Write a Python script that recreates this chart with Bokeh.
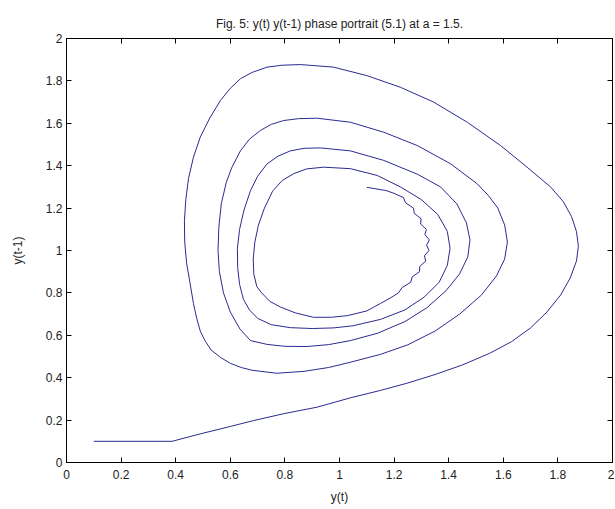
from bokeh.plotting import figure
from bokeh.models import FixedTicker, LinearAxis, Range1d, CustomJSTickFormatter
from bokeh.embed import file_html
from bokeh.resources import INLINE

# trajectory, piece by piece: y(t) (x) and y(t-1) (y)
seg0_x = [0.10, 0.387, 0.49, 0.60, 0.686, 0.795, 0.918, 1.04, 1.15, 1.25, 1.35, 1.45, 1.55, 1.63, 1.70, 1.76, 1.81,
          1.845, 1.868, 1.875]
seg0_y = [0.10, 0.10, 0.135, 0.17, 0.198, 0.23, 0.261, 0.305, 0.34, 0.375, 0.415, 0.46, 0.515, 0.57, 0.635, 0.71, 0.79,
          0.87, 0.95, 1.02]
loop1_x = [1.868, 1.85, 1.82, 1.773, 1.687, 1.59, 1.468, 1.345, 1.223, 1.10, 0.978, 0.857, 0.79, 0.735, 0.68, 0.637,
           0.60, 0.564, 0.525, 0.49, 0.465, 0.447, 0.437, 0.432, 0.433, 0.44, 0.452, 0.465, 0.477, 0.49, 0.507, 0.53,
           0.565, 0.60, 0.64, 0.68, 0.77, 0.87, 0.96, 1.04]
loop1_y = [1.09, 1.16, 1.23, 1.30, 1.393, 1.495, 1.605, 1.70, 1.77, 1.825, 1.865, 1.877, 1.874, 1.865, 1.84, 1.81,
           1.765, 1.708, 1.625, 1.535, 1.44, 1.34, 1.24, 1.14, 1.04, 0.94, 0.85, 0.75, 0.68, 0.62, 0.575, 0.53,
           0.495, 0.468, 0.448, 0.435, 0.421, 0.43, 0.448, 0.473]
loop2_x = [1.15, 1.25, 1.35, 1.44, 1.52, 1.575, 1.605, 1.615, 1.605, 1.58, 1.545, 1.504, 1.407, 1.285, 1.162, 1.04,
           0.918, 0.85, 0.795, 0.75, 0.71, 0.67, 0.637, 0.605, 0.585, 0.567, 0.558, 0.555, 0.56, 0.575, 0.60, 0.635,
           0.674, 0.735, 0.80, 0.88, 0.96, 1.04]
loop2_y = [0.51, 0.555, 0.62, 0.70, 0.79, 0.88, 0.96, 1.04, 1.12, 1.20, 1.26, 1.315, 1.409, 1.495, 1.558, 1.605,
           1.624, 1.622, 1.613, 1.595, 1.566, 1.525, 1.47, 1.39, 1.32, 1.22, 1.11, 1.00, 0.90, 0.80, 0.71, 0.63,
           0.575, 0.557, 0.548, 0.547, 0.556, 0.575]
loop3_x = [1.14, 1.24, 1.32, 1.39, 1.44, 1.47, 1.478, 1.465, 1.43, 1.37, 1.285, 1.162, 1.04, 0.93, 0.87, 0.82, 0.775,
           0.735, 0.70, 0.674, 0.65, 0.634, 0.626, 0.627, 0.634, 0.648, 0.67, 0.70, 0.75, 0.82, 0.90, 0.98, 1.05]
loop3_y = [0.61, 0.665, 0.73, 0.81, 0.89, 0.97, 1.05, 1.13, 1.22, 1.30, 1.36, 1.425, 1.47, 1.484, 1.482, 1.47, 1.445,
           1.409, 1.35, 1.283, 1.19, 1.10, 1.01, 0.92, 0.84, 0.77, 0.72, 0.68, 0.65, 0.636, 0.632, 0.635, 0.645]
loop4_x = [1.15, 1.24, 1.31, 1.365, 1.395, 1.405, 1.395, 1.36, 1.30, 1.223, 1.138, 1.04, 0.942, 0.88, 0.833, 0.79,
           0.755, 0.725, 0.703, 0.69, 0.684, 0.686, 0.697, 0.715, 0.745, 0.784, 0.84, 0.905, 0.97, 1.03, 1.10, 1.15]
loop4_y = [0.675, 0.72, 0.78, 0.85, 0.93, 1.01, 1.09, 1.17, 1.24, 1.30, 1.354, 1.386, 1.393, 1.385, 1.363, 1.33,
           1.28, 1.20, 1.12, 1.04, 0.96, 0.89, 0.83, 0.80, 0.76, 0.733, 0.705, 0.685, 0.685, 0.693, 0.715, 0.75]
# last, jagged partial turn ending near (1.1, 1.3)
end_x = [1.185, 1.216, 1.229, 1.261, 1.266, 1.293, 1.294, 1.316, 1.311, 1.328, 1.319, 1.329, 1.313, 1.318, 1.297,
         1.299, 1.274, 1.271, 1.242, 1.234, 1.199, 1.17, 1.10]
end_y = [0.775, 0.80, 0.825, 0.85, 0.875, 0.90, 0.925, 0.95, 0.975, 1.00, 1.025, 1.05, 1.075, 1.10, 1.125,
         1.15, 1.175, 1.20, 1.225, 1.25, 1.27, 1.283, 1.298]

yt = seg0_x + loop1_x + loop2_x + loop3_x + loop4_x + end_x
ylag = seg0_y + loop1_y + loop2_y + loop3_y + loop4_y + end_y

tick_vals = [0, 0.2, 0.4, 0.6, 0.8, 1.0, 1.2, 1.4, 1.6, 1.8, 2.0]
tick_labels = ["0", "0.2", "0.4", "0.6", "0.8", "1", "1.2", "1.4", "1.6", "1.8", "2"]

title_text = "Fig. 5: y(t) y(t-1) phase portrait (5.1) at a = 1.5."
xlabel = "y(t)"
ylabel = "y(t-1)"

FONT = "Liberation Sans"

p = figure(width=614, height=508, output_backend="svg", toolbar_location=None,
           x_range=Range1d(0, 2), y_range=Range1d(0, 2),
           min_border_left=66, min_border_right=2, min_border_top=38, min_border_bottom=46,
           background_fill_color="white", border_fill_color="white")
p.title.text = title_text
p.title.align = "center"
p.title.text_font = FONT
p.title.text_font_size = "12px"
p.title.text_font_style = "normal"
p.title.text_color = "#222222"
p.title.standoff = 16

p.grid.visible = False
p.outline_line_color = "black"
p.outline_line_width = 1

overrides = {v: s for v, s in zip(tick_vals, tick_labels)}
for ax in [p.xaxis[0], p.yaxis[0]]:
    ax.ticker = FixedTicker(ticks=tick_vals)
    ax.major_label_overrides = overrides
    ax.major_tick_in = 5
    ax.major_tick_out = 0
    ax.minor_tick_line_color = None
    ax.axis_line_color = "black"
    ax.major_tick_line_color = "black"
    ax.major_label_text_font = FONT
    ax.major_label_text_font_size = "12px"
    ax.major_label_text_color = "#222222"
    ax.axis_label_text_font = FONT
    ax.axis_label_text_font_size = "12px"
    ax.axis_label_text_font_style = "normal"
    ax.axis_label_text_color = "#222222"
p.xaxis[0].axis_label = xlabel
p.yaxis[0].axis_label = ylabel
p.xaxis[0].major_label_standoff = 7
p.yaxis[0].major_label_standoff = 4
p.xaxis[0].axis_label_standoff = 8
p.yaxis[0].axis_label_standoff = 18

blank = CustomJSTickFormatter(code="return ''")
for loc in ["above", "right"]:
    a = LinearAxis(ticker=FixedTicker(ticks=tick_vals), formatter=blank)
    a.major_tick_in = 5
    a.major_tick_out = 0
    a.minor_tick_line_color = None
    a.major_label_text_font_size = "0px"
    a.major_label_standoff = 0
    a.axis_line_color = "black"
    p.add_layout(a, loc)

p.line(yt, ylag, line_color="#2a2a90", line_width=1)

open("out.html", "w").write(file_html(p, INLINE))
